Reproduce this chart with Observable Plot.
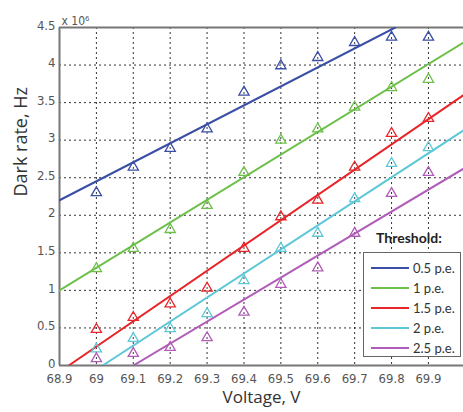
<!DOCTYPE html>
<html><head><meta charset="utf-8">
<script src="https://cdn.jsdelivr.net/npm/d3@7"></script>
<script src="https://cdn.jsdelivr.net/npm/@observablehq/plot@0.6"></script>
<style>
body{margin:0;background:#fff;}
#wrap{position:relative;width:463px;height:412px;overflow:hidden;background:#fff;}
#legend-title{position:absolute;left:376px;top:229px;font:bold 14px Lato,"Open Sans",sans-serif;color:#222;}
#legend{position:absolute;left:363px;top:252px;width:98px;height:105px;border:1.5px solid #666;background:#fff;box-sizing:border-box;}
.row{position:absolute;left:0;height:20px;display:flex;align-items:center;font:13px Lato,"Open Sans",sans-serif;color:#333;}
.row span.sw{display:inline-block;width:38px;height:0;border-top:2px solid;margin-left:7px;margin-right:4px;}
</style></head><body><div id="wrap"></div>
<script>
const voltages = [69.0, 69.1, 69.2, 69.3, 69.4, 69.5, 69.6, 69.7, 69.8, 69.9];
const thresholds = ["0.5 p.e.", "1 p.e.", "1.5 p.e.", "2 p.e.", "2.5 p.e."];
const colors = ["#3b4ea6", "#6cc04a", "#e8262a", "#5ec8d8", "#b05cb8"];
const rate05 = [2.30, 2.64, 2.89, 3.15, 3.64, 3.99, 4.10, 4.30, 4.37, 4.37];
const rate10 = [1.29, 1.56, 1.81, 2.13, 2.57, 3.00, 3.15, 3.44, 3.70, 3.81];
const rate15 = [0.48, 0.64, 0.82, 1.03, 1.56, 1.98, 2.20, 2.64, 3.09, 3.29];
const rate20 = [0.22, 0.36, 0.49, 0.69, 1.13, 1.56, 1.76, 2.22, 2.69, 2.90];
const rate25 = [0.09, 0.16, 0.24, 0.37, 0.71, 1.08, 1.30, 1.76, 2.29, 2.57];
// linear fit lines: start and end points
const fitX0 = [68.9, 68.9, 68.925, 69.017, 69.1];
const fitY0 = [2.2, 1.0, 0, 0, 0];
const fitX1 = [69.81, 69.995, 69.995, 69.995, 69.995];
const fitY1 = [4.5, 4.3, 3.6, 3.13, 2.62];
const xTicks = [68.9, 69.0, 69.1, 69.2, 69.3, 69.4, 69.5, 69.6, 69.7, 69.8, 69.9];
const yTicks = [0, 0.5, 1, 1.5, 2, 2.5, 3, 3.5, 4, 4.5];

const series = [rate05, rate10, rate15, rate20, rate25];
const points = [];
series.forEach((s, i) => s.forEach((v, j) => points.push({x: voltages[j], y: v, t: thresholds[i]})));
const fits = [];
thresholds.forEach((t, i) => {
  fits.push({x: fitX0[i], y: fitY0[i], t});
  fits.push({x: fitX1[i], y: fitY1[i], t});
});

const tickFont = '"Liberation Sans Narrow","DejaVu Sans Condensed",sans-serif';
const labelFont = '"Open Sans",sans-serif';

const chart = Plot.plot({
  width: 463, height: 412,
  marginLeft: 59, marginRight: 0, marginTop: 27, marginBottom: 47,
  style: {background: "#fff", overflow: "visible"},
  x: {domain: [68.9, 69.995], ticks: xTicks, tickFormat: d => String(+d.toFixed(1))},
  y: {domain: [0, 4.5], ticks: yTicks, tickFormat: d => String(d)},
  color: {domain: thresholds, range: colors},
  marks: [
    Plot.gridX(xTicks.slice(1), {stroke: "#111", strokeOpacity: 0.85, strokeDasharray: "2,3", strokeWidth: 1}),
    Plot.gridY(yTicks.slice(1, -1), {stroke: "#111", strokeOpacity: 0.85, strokeDasharray: "2,3", strokeWidth: 1}),
    Plot.ruleX([68.9], {stroke: "#777", strokeWidth: 2}),
    Plot.ruleY([0, 4.5], {stroke: "#777", strokeWidth: 2}),
    Plot.axisX({ticks: xTicks, tickSize: 0, tickPadding: 8, fontSize: 13, fill: "#555", fontFamily: tickFont, label: null, tickFormat: d => String(+d.toFixed(1))}),
    Plot.axisY({ticks: yTicks, tickSize: 0, tickPadding: 4, dy: -2, fontSize: 13, fill: "#555", fontFamily: tickFont, label: null, tickFormat: d => String(d)}),
    Plot.line(fits, {x: "x", y: "y", z: "t", stroke: "t", strokeWidth: 2, clip: true}),
    Plot.dot(points, {x: "x", y: "y", stroke: "t", symbol: "triangle", r: 3.8, strokeWidth: 1.3, fill: "none"}),
    Plot.text(["Dark rate, Hz"], {frameAnchor: "left", dx: -38, rotate: -90, fontSize: 18, fontFamily: labelFont, fill: "#333"}),
    Plot.text(["Voltage, V"], {frameAnchor: "bottom", dy: 37, fontSize: 17, fontFamily: labelFont, fill: "#333"}),
    Plot.text(["x 10⁶"], {frameAnchor: "top-left", dx: 2, dy: -11, textAnchor: "start", fontSize: 12, fontFamily: tickFont, fill: "#555"})
  ]
});
const wrap = document.getElementById("wrap");
wrap.appendChild(chart);
const title = document.createElement("div");
title.id = "legend-title";
title.textContent = "Threshold:";
wrap.appendChild(title);
const lg = document.createElement("div");
lg.id = "legend";
thresholds.forEach((t, i) => {
  const r = document.createElement("div");
  r.className = "row";
  r.style.top = (5 + i * 20) + "px";
  const sw = document.createElement("span");
  sw.className = "sw";
  sw.style.borderColor = colors[i];
  r.appendChild(sw);
  r.appendChild(document.createTextNode(t));
  lg.appendChild(r);
});
wrap.appendChild(lg);
</script></body></html>
